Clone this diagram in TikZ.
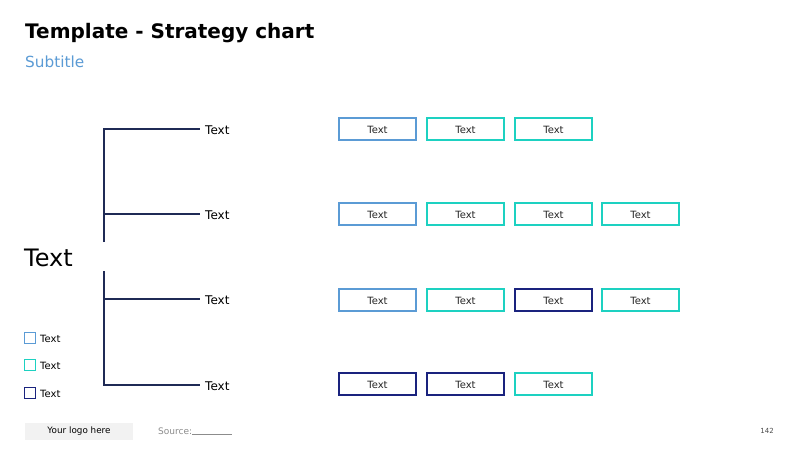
\documentclass[tikz,border=0pt]{standalone}
\usepackage{fontspec}
\setmainfont{DejaVu Sans}
\begin{document}
\definecolor{skyblue}{HTML}{5B9BD5}
\definecolor{teal}{HTML}{1DD1C1}
\definecolor{navy}{HTML}{1A237E}
\definecolor{treeline}{HTML}{1F2A55}
\definecolor{subblue}{HTML}{5B9BD5}
\begin{tikzpicture}[x=1pt,y=-1pt,
  card/.style={draw=#1,line width=1.6pt,minimum width=77pt,minimum height=22pt,inner sep=0pt,font=\fontsize{10}{12}\selectfont,text=black!85,text height=9.3pt,text depth=0pt},
  branch/.style={treeline,line width=1.8pt},
  branchlabel/.style={anchor=west,inner sep=0pt,font=\fontsize{12}{14}\selectfont},
  keybox/.style={draw=#1,line width=1.4pt,minimum size=11pt,inner sep=0pt},
  keylabel/.style={anchor=west,inner sep=0pt,font=\fontsize{10}{12}\selectfont}]
\useasboundingbox (0,0) rectangle (800,449);
\fill[white] (0,0) rectangle (800,449);

% headings
\node[anchor=west,inner sep=0pt,font=\fontsize{20}{24}\selectfont\bfseries] (title) at (25,33) {Template - Strategy chart};
\node[anchor=west,inner sep=0pt,font=\fontsize{15.3}{18}\selectfont,text=subblue] (subtitle) at (25,62) {Subtitle};

% root label and tree
\node[anchor=west,inner sep=0pt,font=\fontsize{24}{28}\selectfont] (root) at (24,258) {Text};
\coordinate (t1) at (104,242);
\coordinate (t2) at (104,271);
\coordinate (j1) at (104,129);
\coordinate (j2) at (104,214);
\coordinate (j3) at (104,299);
\coordinate (j4) at (104,385);
\coordinate (e1) at (200,129);
\coordinate (e2) at (200,214);
\coordinate (e3) at (200,299);
\coordinate (e4) at (200,385);
\draw[branch] (t1) -- (j1) -- (e1);
\draw[branch] (j2) -- (e2);
\draw[branch] (t2) -- (j4) -- (e4);
\draw[branch] (j3) -- (e3);
\node[branchlabel] (b1) at (205,130) {Text};
\node[branchlabel] (b2) at (205,215) {Text};
\node[branchlabel] (b3) at (205,300) {Text};
\node[branchlabel] (b4) at (205,386) {Text};

% cards
\node[card=skyblue] (r1c1) at (377.5,129) {Text};
\node[card=teal]    (r1c2) at (465.5,129) {Text};
\node[card=teal]    (r1c3) at (553.5,129) {Text};

\node[card=skyblue] (r2c1) at (377.5,214) {Text};
\node[card=teal]    (r2c2) at (465.5,214) {Text};
\node[card=teal]    (r2c3) at (553.5,214) {Text};
\node[card=teal]    (r2c4) at (640.5,214) {Text};

\node[card=skyblue] (r3c1) at (377.5,300) {Text};
\node[card=teal]    (r3c2) at (465.5,300) {Text};
\node[card=navy]    (r3c3) at (553.5,300) {Text};
\node[card=teal]    (r3c4) at (640.5,300) {Text};

\node[card=navy]    (r4c1) at (377.5,384) {Text};
\node[card=navy]    (r4c2) at (465.5,384) {Text};
\node[card=teal]    (r4c3) at (553.5,384) {Text};

% legend
\node[keybox=skyblue] (k1) at (30,338) {};
\node[keybox=teal]    (k2) at (30,365) {};
\node[keybox=navy]    (k3) at (30,393) {};
\node[keylabel] (l1) at (40,338.5) {Text};
\node[keylabel] (l2) at (40,365.5) {Text};
\node[keylabel] (l3) at (40,393.5) {Text};

% footer
\node[fill=black!5,minimum width=108pt,minimum height=17pt,inner sep=0pt,font=\fontsize{8.8}{10}\selectfont] (logo) at (79,431) {Your logo here};
\node[anchor=west,inner sep=0pt,font=\fontsize{9}{11}\selectfont,text=black!45] (src) at (158,431) {Source:\rule[-0.5pt]{40pt}{0.4pt}};
\node[anchor=east,inner sep=0pt,font=\fontsize{7}{8}\selectfont,text=black!70] (page) at (774,431) {142};
\end{tikzpicture}
\end{document}
